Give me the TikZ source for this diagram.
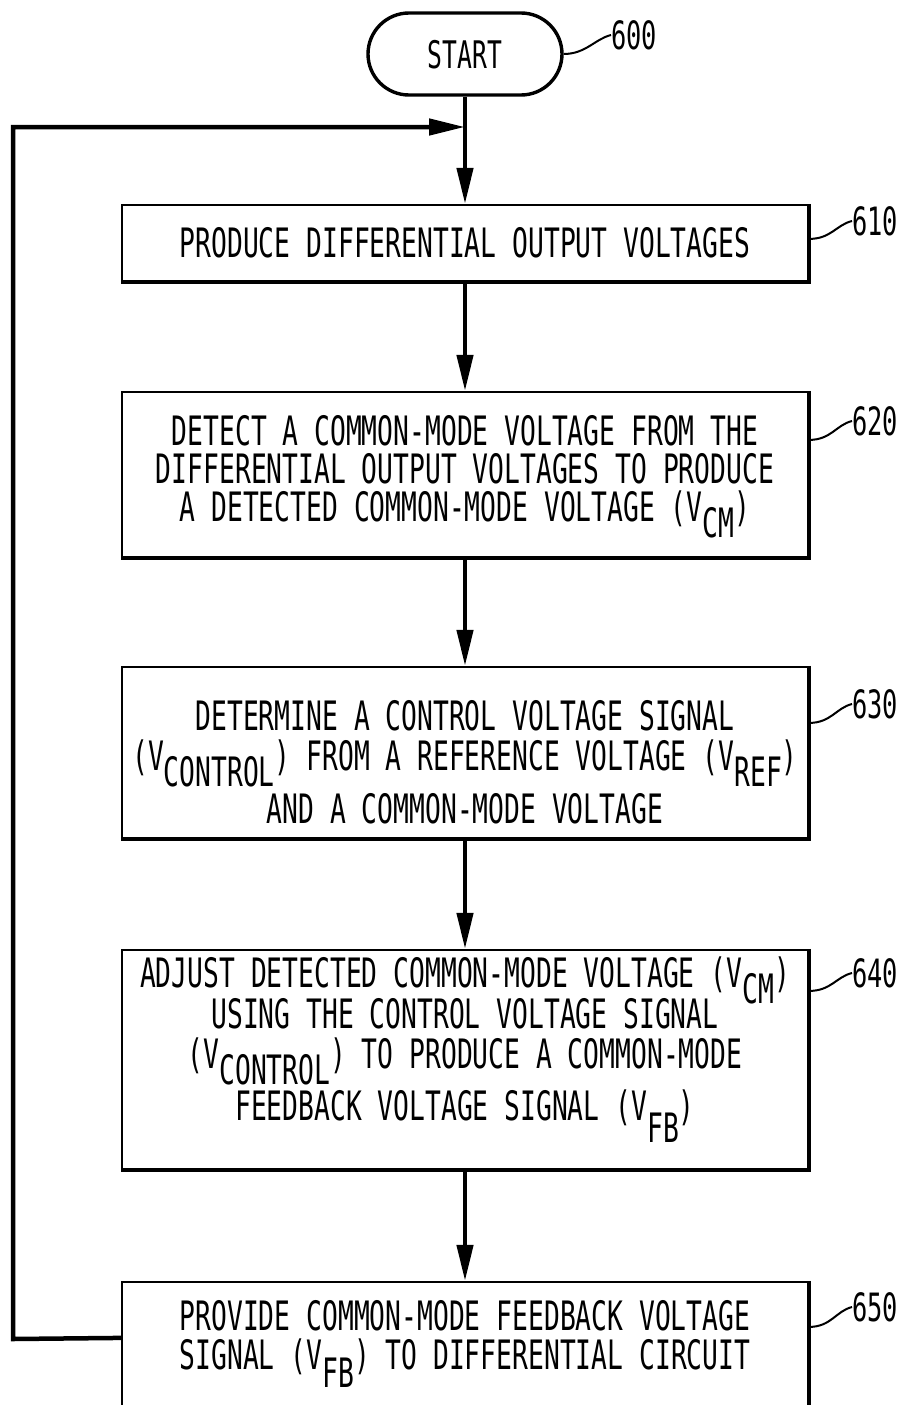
\documentclass[tikz,border=0pt]{standalone}
\usepackage{fontspec}
\usetikzlibrary{arrows.meta}
\newfontfamily\leroy{DejaVu Sans Mono}[FakeStretch=0.65]
\newcommand\lowsub[2][16pt]{\raisebox{-#1}{#2}}
\begin{document}
\begin{tikzpicture}[x=1pt,y=-1pt,
  txt/.style={font=\leroy\fontsize{40.5}{44}\selectfont, inner sep=0pt, anchor=base},
  numlab/.style={font=\leroy\fontsize{39}{42}\selectfont, inner sep=0pt, anchor=west},
  box/.style={draw, line width=2.2pt, minimum width=686pt, inner sep=0pt},
  heavy/.style={line width=4pt},
  conn/.style={line width=4.5pt, -{Triangle[length=36pt,width=16pt]}},
  plain/.style={line width=4.5pt},
  lead/.style={line width=2pt},
  term/.style={draw, line width=3.4pt, rounded corners=41pt, minimum width=194pt, minimum height=82pt, inner sep=0pt}]
\clip (0,0) rectangle (909,1405);
\fill[white] (0,0) rectangle (909,1405);

% terminal
\node[term] (start) at (465,54) {};
\node[txt, font=\leroy\fontsize{38}{40}\selectfont] (tstart) at (465,68) {START};
\node[numlab] (l600) at (611,35) {600};
\draw[lead] (start.east) .. controls +(22pt,0pt) and +(-16pt,-4pt) .. (l600.west);

% boxes
\node[box, minimum height=76pt]  (b610) at (465,243) {};
\node[box, minimum height=165pt] (b620) at (465,474.5) {};
\node[box, minimum height=171pt] (b630) at (465,752.5) {};
\node[box, minimum height=219pt] (b640) at (465,1059.5) {};
\node[box, minimum height=148pt] (b650) at (465,1356) {};
\foreach \b in {b610,b620,b630,b640,b650}
  \draw[heavy] (\b.north east) -- (\b.south east) -- (\b.south west);

% texts
\node[txt] (t610) at (465,257) {PRODUCE DIFFERENTIAL OUTPUT VOLTAGES};

\node[txt] (t620a) at (465,445) {DETECT A COMMON-MODE VOLTAGE FROM THE};
\node[txt] (t620b) at (465,483) {DIFFERENTIAL OUTPUT VOLTAGES TO PRODUCE};
\node[txt] (t620c) at (465,521) {A DETECTED COMMON-MODE VOLTAGE (V\lowsub{CM})};

\node[txt] (t630a) at (465,730) {DETERMINE A CONTROL VOLTAGE SIGNAL};
\node[txt] (t630b) at (465,770) {(V\lowsub{CONTROL}) FROM A REFERENCE VOLTAGE (V\lowsub{REF})};
\node[txt] (t630c) at (465,823) {AND A COMMON-MODE VOLTAGE};

\node[txt] (t640a) at (465,987) {ADJUST DETECTED COMMON-MODE VOLTAGE (V\lowsub{CM})};
\node[txt] (t640b) at (465,1028) {USING THE CONTROL VOLTAGE SIGNAL};
\node[txt] (t640c) at (465,1068) {(V\lowsub{CONTROL}) TO PRODUCE A COMMON-MODE};
\node[txt] (t640d) at (465,1120) {FEEDBACK VOLTAGE SIGNAL (V\lowsub[22pt]{FB})};

\node[txt] (t650a) at (465,1330) {PROVIDE COMMON-MODE FEEDBACK VOLTAGE};
\node[txt] (t650b) at (465,1369) {SIGNAL (V\lowsub[18pt]{FB}) TO DIFFERENTIAL CIRCUIT};

% reference numerals
\node[numlab] (l610) at (852,221) {610};
\node[numlab] (l620) at (852,421) {620};
\node[numlab] (l630) at (852,704) {630};
\node[numlab] (l640) at (852,973) {640};
\node[numlab] (l650) at (852,1307) {650};
\draw[lead] ([yshift=-35pt]b610.north east) .. controls +(22pt,0pt) and +(-16pt,-4pt) .. (l610.west);
\draw[lead] ([yshift=-49pt]b620.north east) .. controls +(22pt,0pt) and +(-16pt,-4pt) .. (l620.west);
\draw[lead] ([yshift=-57pt]b630.north east) .. controls +(22pt,0pt) and +(-16pt,-4pt) .. (l630.west);
\draw[lead] ([yshift=-42pt]b640.north east) .. controls +(22pt,0pt) and +(-16pt,-4pt) .. (l640.west);
\draw[lead] ([yshift=-46pt]b650.north east) .. controls +(22pt,0pt) and +(-16pt,-4pt) .. (l650.west);

% connectors
\coordinate (join) at (465,127);
\coordinate (fbl) at (13,1339);
\draw[plain] (start.south) -- (join);
\draw[conn] (join) -- (b610.north);
\draw[conn] (b610.south) -- (b620.north);
\draw[conn] (b620.south) -- (b630.north);
\draw[conn] (b630.south) -- (b640.north);
\draw[conn] (b640.south) -- (b650.north);
\draw[conn] ([yshift=-57pt]b650.north west) -- (fbl) |- (join);
\end{tikzpicture}
\end{document}
